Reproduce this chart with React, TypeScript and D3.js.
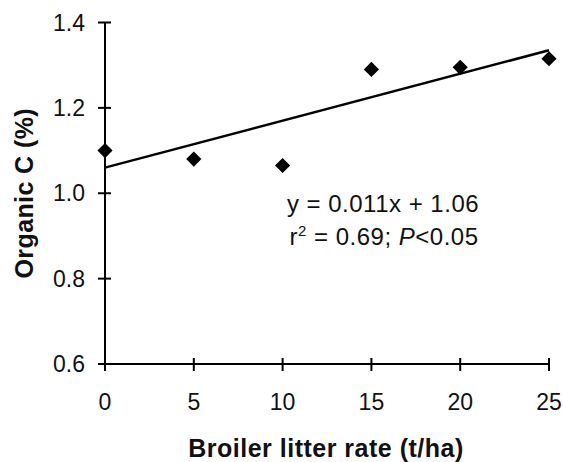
import React, { useEffect, useRef } from 'react';
import * as d3 from 'd3';

// Broiler litter rate (t/ha) vs organic C (%)
const rates = [0, 5, 10, 15, 20, 25];
const organicC = [1.10, 1.08, 1.065, 1.29, 1.295, 1.315];
const xTicks = [0, 5, 10, 15, 20, 25];
const yTicks = [0.6, 0.8, 1.0, 1.2, 1.4];
const slope = 0.011;
const intercept = 1.06;
const eqLines = ['y = 0.011x + 1.06'];

const W = 563;
const H = 462;

const App = () => {
    const svgRef = useRef<SVGSVGElement | null>(null);

    useEffect(() => {
        if (!svgRef.current) return;
        const svg = d3.select(svgRef.current);
        svg.selectAll('*').remove();

        const x = d3.scaleLinear().domain([0, 25]).range([105, 549]);
        const y = d3.scaleLinear().domain([0.6, 1.4]).range([364, 22.5]);
        const font = 'Liberation Sans, Arial, sans-serif';

        // Axes lines
        svg.append('line')
            .attr('x1', x(0)).attr('x2', x(25))
            .attr('y1', y(0.6)).attr('y2', y(0.6))
            .attr('stroke', '#000').attr('stroke-width', 2);
        svg.append('line')
            .attr('x1', x(0)).attr('x2', x(0))
            .attr('y1', y(0.6)).attr('y2', y(1.4))
            .attr('stroke', '#000').attr('stroke-width', 2);

        // Ticks cross the axis
        svg.selectAll('.xt')
            .data(xTicks)
            .enter()
            .append('line')
            .attr('x1', d => x(d)).attr('x2', d => x(d))
            .attr('y1', y(0.6) - 6).attr('y2', y(0.6) + 7)
            .attr('stroke', '#000').attr('stroke-width', 2);
        svg.selectAll('.yt')
            .data(yTicks)
            .enter()
            .append('line')
            .attr('x1', x(0) - 7).attr('x2', x(0) + 6)
            .attr('y1', d => y(d)).attr('y2', d => y(d))
            .attr('stroke', '#000').attr('stroke-width', 2);

        // Tick labels
        svg.selectAll('.xl')
            .data(xTicks)
            .enter()
            .append('text')
            .attr('x', d => x(d))
            .attr('y', 410)
            .attr('text-anchor', 'middle')
            .style('font-family', font)
            .style('font-size', '23px')
            .style('fill', '#111')
            .text(d => String(d));
        svg.selectAll('.yl')
            .data(yTicks)
            .enter()
            .append('text')
            .attr('x', 85)
            .attr('y', d => y(d))
            .attr('dy', '0.35em')
            .attr('text-anchor', 'end')
            .style('font-family', font)
            .style('font-size', '23px')
            .style('fill', '#111')
            .text(d => d3.format('.1f')(d));

        // Trend line
        svg.append('path')
            .datum([0, 25])
            .attr('fill', 'none')
            .attr('stroke', '#000')
            .attr('stroke-width', 2.5)
            .attr('d', d3.line<number>()
                .x(d => x(d))
                .y(d => y(intercept + slope * d)));

        // Points
        const sym = d3.symbol().type(d3.symbolSquare).size(115);
        svg.selectAll('.pt')
            .data(rates)
            .enter()
            .append('path')
            .attr('d', sym as any)
            .attr('transform', (d, i) => `translate(${x(d)},${y(organicC[i])}) rotate(45)`)
            .attr('fill', '#000');

        // Equation
        const eq = svg.append('text')
            .attr('x', 383)
            .attr('text-anchor', 'middle')
            .style('font-family', font)
            .style('font-size', '24px')
            .style('letter-spacing', '0.5px')
            .style('fill', '#111');
        eq.append('tspan').attr('x', 383).attr('y', 212).text(eqLines[0]);
        const l2 = eq.append('tspan').attr('x', 384).attr('y', 245);
        l2.append('tspan').text('r');
        l2.append('tspan').attr('dy', -9).style('font-size', '15px').text('2');
        l2.append('tspan').attr('dy', 9).text(' = 0.69; ');
        l2.append('tspan').style('font-style', 'italic').text('P');
        l2.append('tspan').text('<0.05');

        // Axis titles
        svg.append('text')
            .attr('x', 326)
            .attr('y', 457)
            .attr('text-anchor', 'middle')
            .style('font-family', font)
            .style('font-size', '25px')
            .style('letter-spacing', '0.5px')
            .style('font-weight', 'bold')
            .style('fill', '#111')
            .text('Broiler litter rate (t/ha)');
        svg.append('text')
            .attr('transform', `translate(33,${(y(0.6) + y(1.4)) / 2}) rotate(-90)`)
            .attr('text-anchor', 'middle')
            .style('font-family', font)
            .style('font-size', '25px')
            .style('letter-spacing', '0.4px')
            .style('font-weight', 'bold')
            .style('fill', '#111')
            .text('Organic C (%)');
    }, []);

    return (
        <svg ref={svgRef} width={W} height={H}
            style={{ position: 'absolute', left: 0, top: 0, background: '#fff' }} />
    );
};

export default App;
